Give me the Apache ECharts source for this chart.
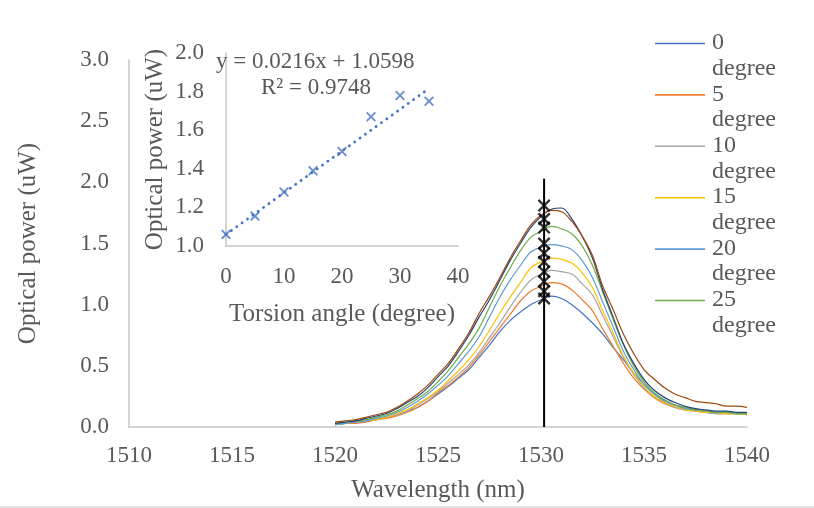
<!DOCTYPE html>
<html>
<head>
<meta charset="utf-8">
<script src="https://cdn.jsdelivr.net/npm/echarts@6/dist/echarts.min.js"></script>
<style>
html,body{margin:0;padding:0;background:#fff;}
#main{width:814px;height:508px;}
</style>
</head>
<body>
<div id="main"></div>
<script>
// wavelength grid (nm)
var wavelength = [1520,1520.5,1521,1521.5,1522,1522.5,1523,1523.5,1524,1524.5,1525,1525.5,1526,1526.5,1527,1527.5,1528,1528.5,1529,1529.5,
	1530,1530.5,1531,1531.5,1532,1532.5,1533,1533.5,1534,1534.5,1535,1535.5,1536,1536.5,1537,1537.5,1538,1538.5,1539,1539.5,1540];

var seriesNames = ['0 degree','5 degree','10 degree','15 degree','20 degree','25 degree','30 degree','35 degree'];
var seriesColors = ['#4472C4','#ED7D31','#A5A5A5','#FFC000','#5B9BD5','#70AD47','#264478','#9E480E'];

// optical power (uW)
var p0  = [0.02,0.03,0.04,0.05,0.06,0.08,0.10,0.13,0.16,0.21,0.27,0.33,0.40,0.47,0.57,0.67,0.78,0.87,0.94,1.00,1.04,1.07,1.05,1.00,0.93,0.85,0.76,0.65,0.55,0.44,0.35,0.27,0.22,0.18,0.16,0.14,0.13,0.12,0.12,0.11,0.11];
var p5  = [0.02,0.03,0.03,0.04,0.06,0.07,0.09,0.12,0.16,0.21,0.28,0.34,0.41,0.49,0.59,0.70,0.81,0.92,1.03,1.11,1.15,1.18,1.17,1.12,1.04,0.95,0.80,0.66,0.52,0.40,0.31,0.24,0.19,0.16,0.14,0.13,0.12,0.11,0.11,0.11,0.10];
var p10 = [0.02,0.03,0.04,0.05,0.06,0.08,0.10,0.13,0.18,0.23,0.29,0.36,0.43,0.51,0.61,0.73,0.85,0.98,1.10,1.20,1.25,1.28,1.27,1.25,1.17,1.08,0.91,0.74,0.57,0.43,0.32,0.25,0.20,0.16,0.14,0.13,0.12,0.11,0.11,0.11,0.10];
var p15 = [0.02,0.03,0.04,0.05,0.06,0.08,0.11,0.14,0.19,0.24,0.30,0.38,0.46,0.55,0.66,0.79,0.93,1.06,1.18,1.30,1.35,1.38,1.37,1.34,1.26,1.14,0.95,0.77,0.58,0.44,0.33,0.25,0.20,0.17,0.14,0.13,0.12,0.12,0.11,0.11,0.10];
var p20 = [0.02,0.03,0.04,0.05,0.07,0.09,0.12,0.16,0.21,0.27,0.34,0.42,0.52,0.62,0.74,0.90,1.06,1.20,1.32,1.43,1.47,1.49,1.48,1.45,1.36,1.22,1.02,0.82,0.62,0.47,0.35,0.27,0.21,0.18,0.15,0.14,0.13,0.12,0.12,0.11,0.11];
var p25 = [0.03,0.04,0.05,0.06,0.08,0.10,0.13,0.18,0.23,0.29,0.37,0.46,0.57,0.68,0.81,0.98,1.15,1.30,1.44,1.55,1.60,1.64,1.62,1.58,1.48,1.32,1.10,0.88,0.67,0.50,0.37,0.28,0.22,0.18,0.16,0.14,0.13,0.12,0.12,0.11,0.11];
var p30 = [0.03,0.04,0.05,0.07,0.09,0.11,0.15,0.20,0.25,0.32,0.41,0.50,0.62,0.75,0.90,1.04,1.20,1.36,1.50,1.63,1.72,1.78,1.79,1.70,1.56,1.38,1.12,0.90,0.68,0.52,0.39,0.30,0.24,0.20,0.17,0.15,0.14,0.13,0.13,0.12,0.12];
var p35 = [0.04,0.05,0.06,0.08,0.10,0.12,0.16,0.21,0.27,0.34,0.43,0.52,0.64,0.77,0.93,1.07,1.22,1.38,1.52,1.65,1.73,1.77,1.76,1.68,1.56,1.40,1.15,0.96,0.76,0.60,0.47,0.39,0.32,0.27,0.24,0.21,0.20,0.19,0.17,0.17,0.16];
var spectra = [p0,p5,p10,p15,p20,p25,p30,p35];

// peak marker line and crosses
var markWavelength = 1530.15;
var markLineTop = 2.03;
var peakCross = [1.81,1.70,1.63,1.50,1.42,1.35,1.27,1.19,1.11,1.05];

// inset: peak power vs torsion angle
var torsionAngle = [0,5,10,15,20,25,30,35];
var peakPower = [1.06,1.155,1.28,1.39,1.49,1.67,1.78,1.75];
var trendX = [0,35];
var trendY = [1.06,1.816];
var trendText = ['y = 0.0216x + 1.0598','R\u00b2 = 0.9748'];

var FONT = '"Liberation Serif","Times New Roman",serif';
var TXT = '#595959';
var AXIS = '#c6c6c6';
var crossPath = 'path://M0,1.3L1.3,0L5,3.7L8.7,0L10,1.3L6.3,5L10,8.7L8.7,10L5,6.3L1.3,10L0,8.7L3.7,5Z';
var legendIcon = 'path://M0,0L50,0L50,1.6L0,1.6Z M0,26L0.01,26Z';

var myChart = echarts.init(document.getElementById('main'));

var series = [];
for (var i = 0; i < spectra.length; i++) {
	var d = [];
	for (var j = 0; j < wavelength.length; j++) {
		d.push([wavelength[j], spectra[i][j]]);
	}
	series.push({
		name: seriesNames[i],
		type: 'line',
		xAxisIndex: 0, yAxisIndex: 0,
		data: d,
		showSymbol: false,
		symbol: 'none',
		smooth: 0.35,
		color: seriesColors[i],
		lineStyle: {width: 1.2, color: seriesColors[i]},
		z: 2
	});
}

// vertical line at the peak
series.push({
	type: 'line',
	xAxisIndex: 0, yAxisIndex: 0,
	data: [[markWavelength, 0], [markWavelength, markLineTop]],
	symbol: 'none',
	lineStyle: {color: '#000', width: 2},
	silent: true,
	z: 4
});

var crossData = [];
for (var k = 0; k < peakCross.length; k++) crossData.push([markWavelength, peakCross[k]]);
series.push({
	type: 'scatter',
	xAxisIndex: 0, yAxisIndex: 0,
	data: crossData,
	symbol: crossPath,
	symbolSize: 13,
	itemStyle: {color: '#000'},
	silent: true,
	z: 5
});

// inset series
var insetData = [];
for (var m = 0; m < torsionAngle.length; m++) insetData.push([torsionAngle[m], peakPower[m]]);
series.push({
	type: 'scatter',
	xAxisIndex: 1, yAxisIndex: 1,
	data: insetData,
	symbol: crossPath,
	symbolSize: 10,
	itemStyle: {color: '#4472C4'},
	z: 5
});
series.push({
	type: 'line',
	xAxisIndex: 1, yAxisIndex: 1,
	data: [[trendX[0], trendY[0]], [trendX[1], trendY[1]]],
	symbol: 'none',
	lineStyle: {color: '#4472C4', width: 2.8, type: [0.1, 6.5], cap: 'round'},
	z: 4
});

function plain(v) { return String(v); }
function oneDec(v) { return v.toFixed(1); }

var option = {
	backgroundColor: '#fff',
	animation: false,
	textStyle: {fontFamily: FONT},
	legend: {
		data: seriesNames.slice(0, 6),
		orient: 'vertical',
		left: 650,
		top: 25,
		itemWidth: 50,
		itemHeight: 26,
		itemGap: 0,
		icon: legendIcon,
		itemStyle: {borderWidth: 0},
		formatter: function (name) { return name.replace(' ', '\n'); },
		textStyle: {color: TXT, fontSize: 24, fontFamily: FONT, lineHeight: 25.7, padding: [0, 0, 0, 2]}
	},
	grid: [
		{left: 129, top: 60, width: 618, height: 378},
		{left: 226, top: 53, width: 232, height: 193}
	],
	xAxis: [{
		type: 'value', gridIndex: 0,
		min: 1510, max: 1540, interval: 5,
		name: 'Wavelength (nm)', nameLocation: 'middle', nameGap: 51,
		nameTextStyle: {color: TXT, fontSize: 25, fontFamily: FONT},
		axisLine: {show: true, lineStyle: {color: AXIS, width: 1.5}},
		axisTick: {show: false},
		splitLine: {show: false},
		axisLabel: {color: TXT, fontSize: 23, fontFamily: FONT, margin: 17, formatter: plain}
	}, {
		type: 'value', gridIndex: 1,
		min: 0, max: 40, interval: 10,
		name: 'Torsion angle (degree)', nameLocation: 'middle', nameGap: 56,
		nameTextStyle: {color: TXT, fontSize: 25, fontFamily: FONT},
		axisLine: {show: true, lineStyle: {color: AXIS, width: 1.5}},
		axisTick: {show: false},
		splitLine: {show: false},
		axisLabel: {color: TXT, fontSize: 23, fontFamily: FONT, margin: 19, formatter: plain}
	}],
	yAxis: [{
		type: 'value', gridIndex: 0,
		min: 0, max: 3, interval: 0.5,
		name: 'Optical power (uW)', nameLocation: 'middle', nameGap: 88,
		nameTextStyle: {color: TXT, fontSize: 25, fontFamily: FONT},
		axisLine: {show: true, lineStyle: {color: AXIS, width: 1.5}},
		axisTick: {show: false},
		splitLine: {show: false},
		axisLabel: {color: TXT, fontSize: 23, fontFamily: FONT, margin: 20, formatter: oneDec}
	}, {
		type: 'value', gridIndex: 1,
		min: 1.0, max: 2.0, interval: 0.2,
		name: 'Optical power (uW)', nameLocation: 'middle', nameGap: 58,
		nameTextStyle: {color: TXT, fontSize: 25, fontFamily: FONT},
		axisLine: {show: true, lineStyle: {color: AXIS, width: 1.5}},
		axisTick: {show: false},
		splitLine: {show: false},
		axisLabel: {color: TXT, fontSize: 23, fontFamily: FONT, margin: 22, formatter: oneDec}
	}],
	graphic: [
		{type: 'text', left: 216, top: 50, z: 10, style: {text: trendText[0], fill: TXT, font: '23px ' + FONT}},
		{type: 'text', left: 261, top: 76, z: 10, style: {text: trendText[1], fill: TXT, font: '23px ' + FONT}},
		{type: 'line', shape: {x1: 0, y1: 507, x2: 814, y2: 507}, style: {stroke: '#d9d9d9', lineWidth: 1.5}}
	],
	series: series
};

myChart.setOption(option);
</script>
</body>
</html>
